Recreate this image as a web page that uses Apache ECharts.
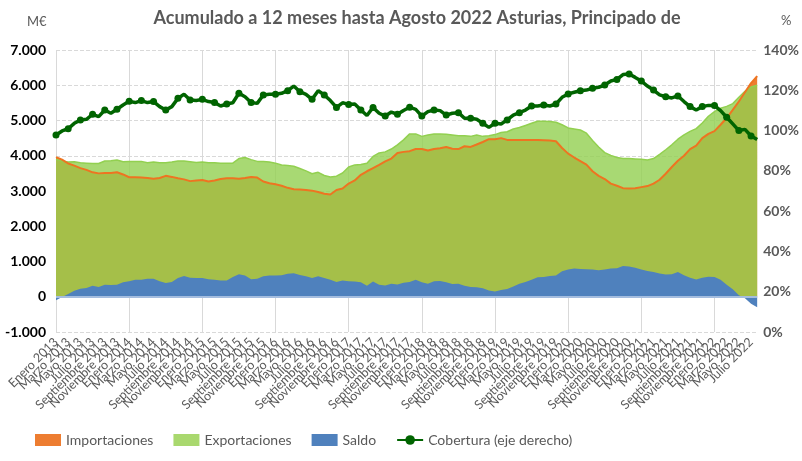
<!DOCTYPE html>
<html>
<head>
<meta charset="utf-8">
<script src="https://cdn.jsdelivr.net/npm/echarts@6/dist/echarts.min.js"></script>
<style>
  html, body { margin: 0; padding: 0; background: #fff; }
  #chart { width: 802px; height: 461px; }
</style>
</head>
<body>
<div id="chart"></div>
<script>
// meses y años del eje (Enero 2013 .. Agosto 2022)
var meses = ['Enero','Febrero','Marzo','Abril','Mayo','Junio','Julio','Agosto','Septiembre','Octubre','Noviembre','Diciembre'];
var anios = [2013, 2014, 2015, 2016, 2017, 2018, 2019, 2020, 2021, 2022];
var ultimoMes = 7; // Agosto 2022

var importaciones = [
  3960,3890,3780,3720,3650,3600,3530,3500,3510,3510,3530,3470,
  3390,3390,3380,3370,3350,3370,3430,3400,3360,3330,3280,3300,
  3310,3270,3300,3340,3360,3360,3350,3370,3400,3380,3270,3220,
  3190,3150,3090,3050,3040,3030,3010,2970,2920,2900,3030,3070,
  3210,3300,3460,3560,3650,3740,3840,3920,4080,4110,4130,4190,
  4190,4150,4190,4210,4250,4200,4190,4270,4250,4320,4390,4470,
  4470,4500,4450,4450,4450,4450,4450,4450,4440,4430,4410,4220,
  4060,3950,3850,3750,3560,3430,3340,3210,3150,3080,3070,3080,
  3110,3140,3210,3320,3490,3680,3860,4000,4190,4290,4500,4620,
  4700,4880,5070,5300,5540,5800,6060,6260
];
var exportaciones = [
  3900,3850,3820,3830,3800,3790,3780,3780,3850,3860,3880,3830,
  3840,3840,3840,3800,3820,3800,3800,3820,3850,3850,3830,3810,
  3820,3800,3800,3790,3790,3790,3920,3950,3890,3840,3840,3820,
  3790,3740,3720,3700,3640,3570,3490,3530,3440,3400,3420,3510,
  3680,3740,3750,3790,3980,4080,4110,4190,4310,4450,4620,4620,
  4550,4590,4620,4620,4610,4590,4570,4570,4550,4590,4550,4570,
  4600,4660,4680,4760,4800,4860,4920,4980,4980,4970,4950,4880,
  4790,4760,4730,4640,4430,4250,4090,4010,3950,3920,3920,3910,
  3900,3880,3920,4040,4170,4310,4470,4590,4690,4770,4930,5120,
  5250,5350,5400,5480,5660,5830,5950,6000
];
var saldo = [
  -100,-10,80,170,230,250,310,280,340,330,340,410,
  440,480,480,510,510,440,390,420,530,590,540,530,
  530,500,480,460,460,560,640,600,500,510,580,600,
  600,610,650,670,620,580,530,580,530,480,420,460,
  440,430,410,310,430,340,320,370,350,400,420,480,
  410,370,440,450,410,360,370,310,280,270,240,180,
  150,190,220,290,370,420,480,550,560,590,600,720,
  770,800,790,780,770,750,770,800,810,870,860,820,
  770,730,700,660,630,640,700,610,540,490,540,570,
  560,480,340,210,40,-40,-200,-300
];
var cobertura = [
  97.8,99.8,100.9,103.6,105.2,105.6,108.1,106.9,110.2,108.6,110.6,112.7,
  114.5,113.9,114.9,113.9,114.4,111.9,110.2,111.9,116.0,118.0,115.2,114.9,
  115.5,114.4,113.9,112.2,113.2,113.8,118.5,116.8,113.9,113.5,117.7,118.0,
  118.0,118.5,119.8,122.1,119.3,118.0,115.5,119.8,117.7,114.9,111.5,113.8,
  113.0,113.2,110.2,107.5,111.5,108.6,107.2,109.2,108.1,110.0,111.6,110.5,
  107.2,109.4,110.2,109.9,107.7,108.6,108.9,106.1,106.1,105.6,103.6,101.6,
  103.6,103.3,105.3,107.7,108.9,110.2,112.2,112.2,112.7,112.2,113.2,116.5,
  118.2,119.0,119.8,120.1,121.0,121.5,122.6,124.6,125.4,127.8,128.1,126.4,
  124.6,122.1,120.1,117.7,116.8,116.2,117.2,114.4,111.9,110.2,111.9,112.5,
  112.4,109.9,106.6,103.3,100.0,100.6,97.3,95.6
];

var categorias = [];
anios.forEach(function (a, k) {
  var hasta = (k === anios.length - 1) ? ultimoMes : 11;
  for (var m = 0; m <= hasta; m++) categorias.push(meses[m] + ' ' + a);
});

var fuente = "Lato, 'Open Sans', sans-serif";
var gris = '#595959';
var ultimaEtiqueta = categorias.length - 2; // Julio 2022

function miles(v) {
  var s = Math.abs(v).toString().replace(/\B(?=(\d{3})+(?!\d))/g, '.');
  return (v < 0 ? '-' : '') + s;
}

var etiquetaEje = { rotate: 45, color: gris, fontSize: 12.5, margin: 8, fontFamily: fuente };

var myChart = echarts.init(document.getElementById('chart'));
myChart.setOption({
  animation: false,
  textStyle: { fontFamily: fuente },
  graphic: [
    { type: 'text', x: 417, y: 9, style: { text: 'Acumulado a 12 meses hasta Agosto 2022 Asturias, Principado de', fill: gris, font: "bold 18px " + fuente, align: 'center', verticalAlign: 'top' } },
    { type: 'text', x: 27, y: 15, style: { text: 'M€', fill: gris, font: "13px " + fuente } },
    { type: 'text', x: 781, y: 14, style: { text: '%', fill: gris, font: "13px " + fuente } }
  ],
  legend: {
    left: 30,
    top: 428,
    itemWidth: 26,
    itemHeight: 12,
    itemGap: 20,
    textStyle: { color: gris, fontSize: 14, fontFamily: fuente },
    data: [
      { name: 'Importaciones', icon: 'rect', itemStyle: { color: '#ED7D31' } },
      { name: 'Exportaciones', icon: 'rect', itemStyle: { color: '#A9D86E' } },
      { name: 'Saldo', icon: 'rect', itemStyle: { color: '#4F81BD' } },
      { name: 'Cobertura (eje derecho)' }
    ]
  },
  grid: { left: 56, right: 43, top: 50, bottom: 129 },
  xAxis: [
    {
      // etiquetas intermedias (la primera y la última las pone el segundo eje)
      type: 'category', position: 'bottom', boundaryGap: false, data: categorias,
      axisLine: { show: false, onZero: false },
      axisTick: { show: false },
      axisLabel: Object.assign({ interval: function (i) { return i % 2 === 0; } }, etiquetaEje),
      splitLine: { show: true, interval: 11, lineStyle: { color: '#D9D9D9', width: 1 } }
    },
    {
      type: 'category', position: 'bottom', offset: 0, boundaryGap: false, data: categorias,
      axisLine: { show: false, onZero: false },
      axisTick: { show: false },
      axisLabel: Object.assign({ interval: function (i) { return i === 0 || i === ultimaEtiqueta; } }, etiquetaEje),
      splitLine: { show: false }
    }
  ],
  yAxis: [
    {
      type: 'value', min: -1000, max: 7000, interval: 1000,
      axisLine: { show: false }, axisTick: { show: false },
      axisLabel: { color: '#000', fontWeight: 'bold', fontSize: 14, margin: 10, formatter: miles },
      splitLine: { lineStyle: { color: '#D9D9D9', type: 'dashed' } }
    },
    {
      type: 'value', min: 0, max: 140, interval: 20,
      axisLine: { show: false }, axisTick: { show: false },
      axisLabel: { color: gris, fontWeight: 'bold', fontSize: 14, margin: 6, formatter: '{value}%' },
      splitLine: { show: false }
    }
  ],
  series: [
    {
      name: 'Importaciones', type: 'line', data: importaciones, symbol: 'none',
      lineStyle: { width: 0 }, itemStyle: { color: '#ED7D31' },
      areaStyle: { color: '#ED7D31', opacity: 1 }
    },
    {
      name: 'Exportaciones', type: 'line', data: exportaciones, symbol: 'none',
      lineStyle: { color: '#92D050', width: 1.5 }, itemStyle: { color: '#92D050' },
      areaStyle: { color: '#92D050', opacity: 0.8 }
    },
    {
      name: 'Saldo', type: 'line', data: saldo, symbol: 'none',
      lineStyle: { width: 0 }, itemStyle: { color: '#4F81BD' },
      areaStyle: { color: '#4F81BD', opacity: 1 },
      markLine: {
        silent: true, symbol: 'none', label: { show: false },
        lineStyle: { color: '#A4BDDF', width: 2, type: 'solid' },
        data: [{ yAxis: 0 }]
      }
    },
    {
      name: 'Importaciones', type: 'line', data: importaciones, symbol: 'none',
      lineStyle: { color: '#EE7421', width: 2 }, itemStyle: { color: '#ED7D31' }
    },
    {
      name: 'Cobertura (eje derecho)', type: 'line', yAxisIndex: 1, data: cobertura,
      symbol: 'circle', symbolSize: 7,
      lineStyle: { color: '#006400', width: 3.5 }, itemStyle: { color: '#006400' }
    }
  ]
});
</script>
</body>
</html>
